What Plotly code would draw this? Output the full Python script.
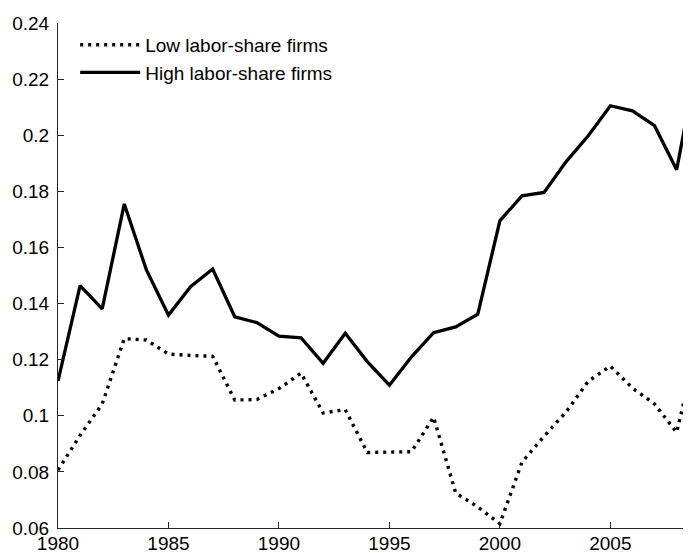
import plotly.graph_objects as go

years = list(range(1980, 2010))
low_share = [0.0806, 0.093, 0.1042, 0.1275, 0.127, 0.122, 0.1215, 0.1212, 0.1056, 0.1058,
             0.1097, 0.1152, 0.101, 0.1022, 0.0869, 0.0871, 0.0872, 0.0995, 0.0725, 0.0675,
             0.0615, 0.0835, 0.0927, 0.1014, 0.1123, 0.1177, 0.1099, 0.1042, 0.0941, 0.127]
high_share = [0.1124, 0.1464, 0.1381, 0.1755, 0.152, 0.1359, 0.146, 0.1523, 0.1353, 0.1332,
              0.1284, 0.1278, 0.1187, 0.1294, 0.1193, 0.1109, 0.121, 0.1296, 0.1317, 0.1362,
              0.1695, 0.1784, 0.1796, 0.1906, 0.1998, 0.2105, 0.2087, 0.2034, 0.1877, 0.229]
series_names = ["Low labor-share firms", "High labor-share firms"]

x_tickvals = [1980, 1985, 1990, 1995, 2000, 2005]
y_tickvals = [0.06, 0.08, 0.10, 0.12, 0.14, 0.16, 0.18, 0.20, 0.22, 0.24]
y_ticktext = ["0.06", "0.08", "0.1", "0.12", "0.14", "0.16", "0.18", "0.2", "0.22", "0.24"]

# the page body adds an 8px offset; figure sized so the plot reaches the window edges
W, H = 683, 545
ML, MT, MB, MR = 49.5, 15.3, 25.3, 0
PW = W - ML - MR
PH = H - MT - MB

fig = go.Figure()
fig.add_trace(go.Scatter(x=years, y=low_share, mode="lines", name=series_names[0],
                         line=dict(color="black", width=3.4, dash="3px,5px")))
fig.add_trace(go.Scatter(x=years, y=high_share, mode="lines", name=series_names[1],
                         line=dict(color="black", width=3.3)))

font = dict(family="Liberation Sans, Arial, sans-serif", size=19, color="black")

fig.update_layout(
    width=W, height=H,
    margin=dict(l=ML, r=MR, t=MT, b=MB, pad=0, autoexpand=False),
    paper_bgcolor="white", plot_bgcolor="white",
    font=font,
    showlegend=True,
    legend=dict(x=(66.7 - ML) / PW, y=1 - (18.2 - MT) / PH,
                xanchor="left", yanchor="top", bgcolor="rgba(0,0,0,0)",
                itemwidth=60, font=font, tracegroupgap=0),
    xaxis=dict(range=[1980, 2008.65], tickmode="array", tickvals=x_tickvals,
               ticks="inside", ticklen=6, tickwidth=1, tickcolor="#262626",
               showline=True, linecolor="#262626", linewidth=1, ticklabelstandoff=-2,
               showgrid=False, zeroline=False, automargin=False),
    yaxis=dict(range=[0.06, 0.24], tickmode="array", tickvals=y_tickvals, ticktext=y_ticktext,
               ticks="inside", ticklen=6, tickwidth=1, tickcolor="#262626",
               showline=True, linecolor="#262626", linewidth=1, ticklabelstandoff=4,
               showgrid=False, zeroline=False, automargin=False),
)

fig.write_html("out.html")
